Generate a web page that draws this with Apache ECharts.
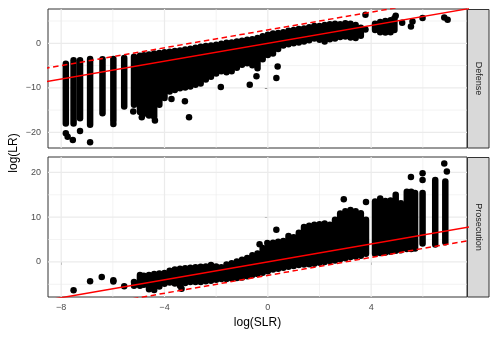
<!DOCTYPE html>
<html>
<head>
<meta charset="utf-8">
<script src="https://cdn.jsdelivr.net/npm/echarts@6/dist/echarts.min.js"></script>
<style>
html, body { margin: 0; padding: 0; background: #fff; }
#chart { width: 498px; height: 339px; }
</style>
</head>
<body>
<div id="chart"></div>
<script>
// tick labels / grid
var xTicks = [-8, -4, 0, 4]
var xMinor = [-6, -2, 2, 6]
var defYTicks = [-20, -10, 0]
var defYMinor = [-15, -5, 5]
var proYTicks = [0, 10, 20]
var proYMinor = [-5, 5, 15]

// Defense: dense columns of points (x, lowest point, highest point)
var defColX = [-7.82, -7.52, -7.27, -6.88, -6.40, -5.98, -5.56, -5.18, -4.95,
    -4.8, -4.6, -4.4, -4.2, -4.0, -3.8, -3.6, -3.4, -3.2, -3.0, -2.8, -2.6, -2.4, -2.2, -2.0,
    -1.8, -1.6, -1.4, -1.2, -1.0, -0.8, -0.6, -0.4, -0.2, 0.0, 0.2, 0.4, 0.6, 0.8, 1.0,
    1.2, 1.4, 1.6, 1.8, 2.0, 2.2, 2.4, 2.6, 2.8, 3.0, 3.2, 3.4, 3.6,
    4.15, 4.35, 4.55, 4.75, 4.9]
var defColLo = [-18.0, -18.0, -16.8, -18.3, -15.7, -17.4, -14.2, -13.8, -15.4,
    -15.8, -16.2, -16.5, -13.8, -12.3, -10.8, -10.5, -10.1, -9.9, -9.7, -9.3, -9.0, -8.1, -7.5, -6.8,
    -6.3, -6.5, -6.3, -5.5, -4.8, -4.5, -4.9, -5.6, -3.6, -2.6, -2.3, -1.3, -0.5, -0.2, 0.0,
    0.2, 0.4, 0.7, 1.1, 0.8, 0.4, 0.9, 1.1, 1.4, 1.5, 1.3, 1.2, 1.7,
    3.0, 2.5, 2.4, 2.5, 3.0]
var defColHi = [-4.6, -3.8, -3.8, -3.5, -3.6, -3.5, -3.3, -3.0, -2.8,
    -2.7, -2.5, -2.3, -2.2, -2.0, -1.9, -1.7, -1.6, -1.4, -1.2, -1.0, -0.8, -0.6, -0.5, -0.3,
    -0.1, 0.1, 0.2, 0.4, 0.6, 0.8, 0.9, 1.2, 1.6, 1.9, 2.2, 2.3, 2.5, 2.8, 3.0,
    3.2, 3.3, 3.6, 3.9, 3.9, 4.1, 4.3, 4.4, 4.3, 4.5, 4.4, 4.1, 3.5,
    4.4, 4.8, 5.0, 5.2, 5.6]
// Defense: single points
var defPtX = [-7.82, -7.75, -7.55, -7.27, -6.88, -5.98, -5.21, -4.88, -4.37, -3.73, -3.21, -3.05,
    -1.82, -0.70, -0.44, 0.33, 0.38, 3.78, 3.78, 4.95, 5.2, 5.54, 5.6, 5.99, 6.83, 6.96]
var defPtY = [-20.2, -21.0, -21.7, -19.7, -22.2, -18.1, -15.3, -16.6, -17.3, -12.5, -13.0, -16.6,
    -9.8, -9.3, -7.4, -7.8, -5.2, 6.4, 3.1, 6.2, 4.6, 3.8, 4.9, 5.7, 5.8, 5.3]

// Prosecution: dense columns
var proColX = [-4.95,
    -4.8, -4.6, -4.4, -4.2, -4.0, -3.8, -3.6, -3.4, -3.2, -3.0, -2.8, -2.6, -2.4, -2.2, -2.0,
    -1.8, -1.6, -1.4, -1.2, -1.0, -0.8, -0.6, -0.4, -0.2, 0.0, 0.2, 0.4, 0.6, 0.8, 1.0,
    1.2, 1.4, 1.6, 1.8, 2.0, 2.2, 2.4, 2.6, 2.8, 3.0, 3.2, 3.4, 3.6,
    3.8, 4.15, 4.35, 4.55, 4.75, 4.95, 5.15, 5.38, 5.55, 5.7, 5.99, 6.48, 6.87]
var proColLo = [-5.3,
    -5.1, -6.1, -6.3, -5.5, -4.9, -4.6, -4.8, -5.3, -4.7, -4.5, -4.5, -4.5, -4.3, -4.2, -4.0,
    -3.8, -3.8, -3.7, -3.6, -3.5, -3.2, -2.9, -2.7, -2.4, -2.1, -1.7, -1.5, -1.3, -1.1, -0.9,
    -0.7, -0.6, -0.5, -0.4, -0.2, 0.0, 0.2, 0.3, 0.6, 0.8, 1.1, 1.2, 1.4,
    1.8, 1.8, 2.0, 2.1, 2.3, 2.5, 2.6, 2.9, 2.9, 3.0, 4.1, 3.9, 4.4]
var proColHi = [-2.9,
    -3.1, -2.9, -2.7, -2.6, -2.5, -2.0, -1.7, -1.5, -1.4, -1.3, -1.2, -1.1, -1.0, -0.7, -1.0,
    -1.2, -0.6, -0.3, 0.1, 0.5, 0.9, 1.5, 1.9, 3.1, 3.3, 4.3, 4.5, 4.7, 5.8, 5.5,
    6.5, 7.8, 8.1, 8.3, 8.4, 8.6, 8.3, 9.4, 10.8, 11.3, 11.6, 11.3, 10.9,
    9.4, 13.5, 14.2, 13.6, 13.7, 15.0, 13.1, 15.7, 15.7, 15.4, 15.4, 18.3, 18.0]
// Prosecution: single points
var proPtX = [-7.52, -6.88, -6.43, -5.98, -5.98, -5.56, -5.18, -5.18, -3.34, -0.32, -0.02, 0.33,
    2.94, 3.8, 5.54, 5.99, 5.99, 6.83, 6.93]
var proPtY = [-6.35, -4.33, -3.36, -4.1, -4.4, -5.45, -4.5, -5.3, -6.0, 3.96, 4.25, 7.2,
    14.0, 13.4, 19.0, 19.8, 18.3, 22.0, 20.2]

// reference lines: log(LR) = log(SLR), and +/- 3
var refX = [-9, 8]
var refSolid = [-9, 8]
var refUpper = [-6, 11]
var refLower = [-12, 5]

var chart = echarts.init(document.getElementById('chart'))

var zip2 = function (xs, ys) {
    return xs.map(function (x, i) { return [x, ys[i]] })
}
var zip3 = function (xs, lo, hi) {
    return xs.map(function (x, i) { return [x, lo[i], hi[i]] })
}
var minus = function (v) { return String(v).replace('-', '\u2212') }

var FONT = '"Liberation Sans", Arial, sans-serif'

var vGrid = function (width) {
    return function (params, api) {
        var cs = params.coordSys
        var x = api.coord([api.value(0), 0])[0]
        return { type: 'line', shape: { x1: x, y1: cs.y, x2: x, y2: cs.y + cs.height },
            style: { stroke: '#EBEBEB', lineWidth: width } }
    }
}
var hGrid = function (width) {
    return function (params, api) {
        var cs = params.coordSys
        var y = api.coord([0, api.value(1)])[1]
        return { type: 'line', shape: { x1: cs.x, y1: y, x2: cs.x + cs.width, y2: y },
            style: { stroke: '#EBEBEB', lineWidth: width } }
    }
}
var column = function (params, api) {
    var a = api.coord([api.value(0), api.value(2)])
    var b = api.coord([api.value(0), api.value(1)])
    return { type: 'line', shape: { x1: a[0], y1: a[1], x2: b[0], y2: b[1] },
        style: { stroke: '#000', lineWidth: 6.5, lineCap: 'round' } }
}

var gridSeries = function (i, yMajor, yMinor) {
    return [
        { type: 'custom', xAxisIndex: i, yAxisIndex: i, z: 1, silent: true, renderItem: vGrid(0.6),
          data: xMinor.map(function (v) { return [v, 0] }) },
        { type: 'custom', xAxisIndex: i, yAxisIndex: i, z: 1, silent: true, renderItem: hGrid(0.6),
          data: yMinor.map(function (v) { return [0, v] }) },
        { type: 'custom', xAxisIndex: i, yAxisIndex: i, z: 1, silent: true, renderItem: vGrid(1.2),
          data: xTicks.map(function (v) { return [v, 0] }) },
        { type: 'custom', xAxisIndex: i, yAxisIndex: i, z: 1, silent: true, renderItem: hGrid(1.2),
          data: yMajor.map(function (v) { return [0, v] }) }
    ]
}
var lineSeries = function (i, ys, dashed) {
    return { type: 'line', xAxisIndex: i, yAxisIndex: i, z: 5, data: zip2(refX, ys), symbol: 'none',
        silent: true, clip: true,
        lineStyle: { color: '#FF0000', width: 1.5, type: dashed ? [5.5, 3.5] : 'solid' } }
}

var yAxisBase = function (i, min, max, ticks) {
    return {
        gridIndex: i, type: 'value', min: min, max: max,
        axisLine: { show: false },
        axisTick: { show: true, length: 3, lineStyle: { color: '#333333' }, customValues: ticks },
        axisLabel: { customValues: ticks, margin: 7, color: '#4D4D4D', fontSize: 9, fontFamily: FONT, formatter: minus },
        splitLine: { show: false }
    }
}

var option = {
    animation: false,
    backgroundColor: '#fff',
    grid: [
        { left: 48, top: 9, width: 419, height: 139, show: true, borderColor: '#333333', borderWidth: 1, backgroundColor: '#fff' },
        { left: 48, top: 157, width: 419, height: 140, show: true, borderColor: '#333333', borderWidth: 1, backgroundColor: '#fff' }
    ],
    xAxis: [
        { gridIndex: 0, type: 'value', min: -8.51, max: 7.71, axisLine: { show: false },
          axisTick: { show: false }, axisLabel: { show: false }, splitLine: { show: false } },
        { gridIndex: 1, type: 'value', min: -8.51, max: 7.71, axisLine: { show: false },
          axisTick: { show: true, length: 3, lineStyle: { color: '#333333' }, customValues: xTicks },
          axisLabel: { customValues: xTicks, margin: 6, color: '#4D4D4D', fontSize: 9, fontFamily: FONT, formatter: minus },
          splitLine: { show: false },
          name: 'log(SLR)', nameLocation: 'middle', nameGap: 20,
          nameTextStyle: { color: '#000', fontSize: 12, fontFamily: FONT } }
    ],
    yAxis: [
        yAxisBase(0, -23.5, 7.7, defYTicks),
        yAxisBase(1, -7.84, 23.45, proYTicks)
    ],
    graphic: [
        { type: 'rect', shape: { x: 467.5, y: 9.5, width: 21.5, height: 138.5 },
          style: { fill: '#D9D9D9', stroke: '#333333', lineWidth: 1 } },
        { type: 'rect', shape: { x: 467.5, y: 157.5, width: 21.5, height: 139.5 },
          style: { fill: '#D9D9D9', stroke: '#333333', lineWidth: 1 } },
        { type: 'text', x: 478.5, y: 78.5, rotation: -Math.PI / 2,
          style: { text: 'Defense', fill: '#1A1A1A', font: '9px ' + FONT, textAlign: 'center', textVerticalAlign: 'middle' } },
        { type: 'text', x: 478.5, y: 227, rotation: -Math.PI / 2,
          style: { text: 'Prosecution', fill: '#1A1A1A', font: '9px ' + FONT, textAlign: 'center', textVerticalAlign: 'middle' } },
        { type: 'text', x: 14, y: 153, rotation: Math.PI / 2,
          style: { text: 'log(LR)', fill: '#000', font: '12px ' + FONT, textAlign: 'center', textVerticalAlign: 'middle' } }
    ],
    series: [].concat(
        gridSeries(0, defYTicks, defYMinor),
        gridSeries(1, proYTicks, proYMinor),
        [
            { type: 'custom', xAxisIndex: 0, yAxisIndex: 0, z: 3, clip: true, renderItem: column,
              encode: { x: 0, y: [1, 2] }, data: zip3(defColX, defColLo, defColHi) },
            { type: 'scatter', xAxisIndex: 0, yAxisIndex: 0, z: 3, symbolSize: 6.5,
              itemStyle: { color: '#000', opacity: 1 }, data: zip2(defPtX, defPtY) },
            { type: 'custom', xAxisIndex: 1, yAxisIndex: 1, z: 3, clip: true, renderItem: column,
              encode: { x: 0, y: [1, 2] }, data: zip3(proColX, proColLo, proColHi) },
            { type: 'scatter', xAxisIndex: 1, yAxisIndex: 1, z: 3, symbolSize: 6.5,
              itemStyle: { color: '#000', opacity: 1 }, data: zip2(proPtX, proPtY) },
            lineSeries(0, refSolid, false),
            lineSeries(0, refUpper, true),
            lineSeries(1, refSolid, false),
            lineSeries(1, refLower, true)
        ]
    )
}

chart.setOption(option)
</script>
</body>
</html>
